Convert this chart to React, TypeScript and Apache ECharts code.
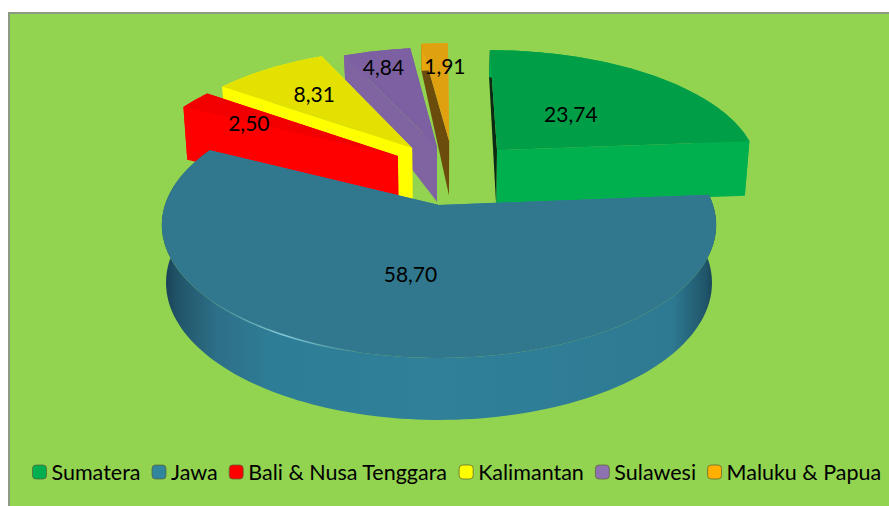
import React, { useEffect, useRef } from "react";
import * as echarts from "echarts";

const regions = ["Sumatera", "Jawa", "Bali & Nusa Tenggara", "Kalimantan", "Sulawesi", "Maluku & Papua"];
const shares = [23.74, 58.7, 2.5, 8.31, 4.84, 1.91];
const labels = ["23,74", "58,70", "2,50", "8,31", "4,84", "1,91"];

// look of every slice, by region index: offset on the plate, label placing, colours
const offsetX = [0.226, 0, -0.159, -0.105, -0.008, 0.04];
const offsetZ = [0.45, 0, 0.4, 0.47, 0.478, 0.53];
const labelR = [0.46, 0.5, 0.7, 0.66, 0.82, 0.75];
const labelDx = [0, 0, -4, 0, -3, 7];
const labelDy = [0, 0, 7, 0, 0, 0];
const topFill = ["#009E47", "#31788F", "#F20000", "#E4E000", "#7D60A2", "#E0A110"];
const wallFill = ["#00B04F", "#31849B", "#FF0000", "#FFFF00", "#8064A2", "#E8A80C"];
const startWall = ["#0B2A14", "#31849B", "#FF0000", "#FFFF00", "#8064A2", "#6B4C0C"];
const legendFill = ["#00B050", "#31859C", "#FF0000", "#FFFF00", "#8E72B0", "#FFB000"];
const drawOrder = [5, 4, 3, 2, 0, 1];

const CX = 439, CY = 205, RX = 274, RY = 130, P = 0.15;

const project = (X: number, Z: number, low: boolean): number[] => {
  const s = 1 / (1 + P * Z);
  let x = CX + RX * X * s;
  let y = CY - RY * Z * s;
  if (low) {
    x = CX + (x - CX) * 0.985;
    let d = 57 - 5 * Z;
    if (Z > 0.9) {
      const t = Math.min(1, (Z - 0.9) / 0.5);
      d = d + (27 - d) * t;
    }
    y += d;
  }
  return [x, y];
};

const total = shares.reduce((a, b) => a + b, 0);
const angleAt = (i: number) => (shares.slice(0, i).reduce((a, b) => a + b, 0) / total) * 2 * Math.PI;

const rimPoint = (i: number, a: number, r: number, low: boolean) =>
  project(offsetX[i] + r * Math.sin(a), offsetZ[i] + r * Math.cos(a), low);

const sampleAngles = (a0: number, a1: number) => {
  const n = Math.max(2, Math.ceil((a1 - a0) / 0.025));
  const out: number[] = [];
  for (let k = 0; k <= n; k++) out.push(a0 + ((a1 - a0) * k) / n);
  return out;
};

const jawaWall = {
  type: "linear", x: 0, y: 0, x2: 1, y2: 0,
  colorStops: [
    { offset: 0, color: "#173E52" },
    { offset: 0.03, color: "#215569" },
    { offset: 0.1, color: "#2D7088" },
    { offset: 0.2, color: "#2E7D96" },
    { offset: 0.5, color: "#30809A" },
    { offset: 0.92, color: "#2E7A92" },
    { offset: 0.98, color: "#20566B" },
    { offset: 1, color: "#173E52" },
  ],
};

const makeRender = (i: number) => (_params: any, api: any) => {
  const value = api.value(0);
  const a0 = angleAt(i);
  const a1 = a0 + (value / total) * 2 * Math.PI;
  const angles = sampleAngles(a0, a1);
  const apexTop = project(offsetX[i], offsetZ[i], false);
  const apexLow = project(offsetX[i], offsetZ[i], true);
  const arcTop = angles.map((a) => rimPoint(i, a, 1, false));
  const arcLow = angles.map((a) => rimPoint(i, a, 1, true));
  const last = angles.length - 1;
  const children: any[] = [];
  const wall = i === 1 ? jawaWall : wallFill[i];
  children.push({
    type: "polygon",
    shape: { points: [apexTop, arcTop[last], arcLow[last], apexLow] },
    style: { fill: wallFill[i] },
  });
  children.push({
    type: "polygon",
    shape: { points: [apexTop, arcTop[0], arcLow[0], apexLow] },
    style: { fill: startWall[i] },
  });
  children.push({
    type: "polygon",
    shape: { points: [...arcTop, ...arcLow.slice().reverse()] },
    style: { fill: wall },
  });
  children.push({
    type: "polygon",
    shape: { points: [apexTop, ...arcTop] },
    style: { fill: topFill[i] },
  });
  if (i === 1) {
    children.push({
      type: "polyline",
      shape: { points: sampleAngles((194 * Math.PI) / 180, (230 * Math.PI) / 180).map((a) => rimPoint(i, a, 1, false)) },
      style: {
        fill: "none",
        lineWidth: 1.5,
        stroke: {
          type: "linear", x: 0, y: 0, x2: 1, y2: 0,
          colorStops: [
            { offset: 0, color: "rgba(120,190,205,0)" },
            { offset: 0.5, color: "rgba(135,205,220,0.95)" },
            { offset: 1, color: "rgba(120,190,205,0)" },
          ],
        },
      },
    });
  }
  const mid = (a0 + a1) / 2;
  const lp = rimPoint(i, mid, labelR[i], false);
  children.push({
    type: "text",
    x: lp[0] + labelDx[i],
    y: lp[1] + labelDy[i],
    style: {
      text: labels[i],
      fill: "#000",
      fontFamily: "Lato",
      fontSize: 21,
      textAlign: "center",
      textVerticalAlign: "middle",
    },
  });
  return { type: "group", children };
};

export default function App() {
  const ref = useRef<HTMLDivElement>(null);
  useEffect(() => {
    const chart = echarts.init(ref.current!, undefined, { renderer: "svg" });
    chart.setOption({
      animation: false,
      backgroundColor: "#FFFFFF",
      graphic: [
        {
          type: "rect",
          z: -10,
          shape: { x: 9, y: 13, width: 900, height: 510 },
          style: { fill: "#92D350", stroke: "#8C9A84", lineWidth: 2 },
        },
      ],
      legend: {
        data: regions,
        left: 32,
        top: 461,
        width: 856,
        itemWidth: 14,
        itemHeight: 14,
        itemGap: 11,
        icon: "roundRect",
        selectedMode: false,
        padding: 0,
        itemStyle: { borderColor: "rgba(90,95,50,0.7)", borderWidth: 1 },
        textStyle: { fontFamily: "Lato", fontSize: 21.5, color: "#000" },
      },
      series: drawOrder.map((i) => ({
        type: "custom",
        name: regions[i],
        coordinateSystem: "none",
        silent: true,
        itemStyle: { color: legendFill[i] },
        data: [[shares[i]]],
        renderItem: makeRender(i),
      })),
    });
    return () => chart.dispose();
  }, []);
  return <div ref={ref} style={{ position: "fixed", left: 0, top: 0, width: 889, height: 506 }} />;
}
